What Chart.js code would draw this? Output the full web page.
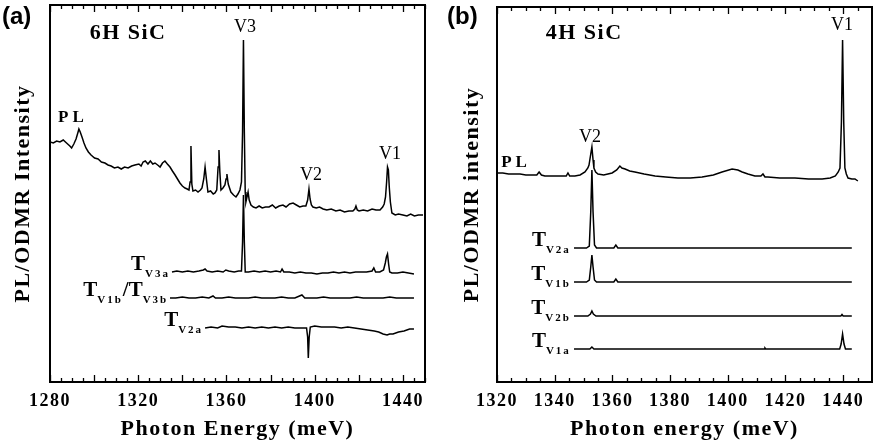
<!DOCTYPE html>
<html lang="en">
<head>
    <meta charset="UTF-8">
    <title>PL / ODMR spectra, 6H and 4H SiC</title>
    <script src="https://cdn.jsdelivr.net/npm/chart.js"></script>
    <style>
        body {
            margin: 0;
            background: #fff;
        }
        .panel {
            position: absolute;
            top: 0;
            height: 446px;
        }
        #panelA { left: 0; width: 435px; }
        #panelB { left: 435px; width: 438px; }
    </style>
</head>
<body>
    <div class="panel" id="panelA"><canvas id="chartA"></canvas></div>
    <div class="panel" id="panelB"><canvas id="chartB"></canvas></div>

    <script>
        // ---- tick labels (meV) ----
        const ticksA = [1280, 1320, 1360, 1400, 1440];
        const ticksB = [1320, 1340, 1360, 1380, 1400, 1420, 1440];

        // ---- panel (a) 6H SiC : [photon energy meV, intensity a.u.] ----
        const plA = [[1280.0,240],[1281.5,239],[1283.0,241],[1284.5,240],[1286.0,242],[1287.5,239],[1289.0,236],[1289.8,234],[1290.8,238],[1291.8,243],[1292.6,249],[1293.1,253],[1293.7,250],[1294.5,245],[1295.4,239],[1296.3,234],[1297.4,230],[1298.6,227],[1300.2,224],[1301.8,223],[1303.3,220],[1304.9,219],[1306.3,217],[1307.7,216],[1309.2,214],[1310.8,215],[1312.3,213],[1313.8,215],[1315.4,214],[1317.0,216],[1318.5,217],[1320.3,218],[1321.3,216],[1322.2,220],[1323.2,221],[1324.4,218],[1325.5,221],[1326.6,218],[1327.6,219],[1328.8,217],[1329.9,215],[1331.0,219],[1332.1,221],[1333.2,218],[1334.4,215],[1335.5,211],[1336.7,207],[1337.8,203],[1338.9,199],[1340.0,196],[1341.2,194],[1342.2,193],[1343.0,192],[1343.5,200],[1343.9,236],[1344.3,198],[1344.8,191],[1346.0,192],[1347.1,190],[1348.2,192],[1348.9,194],[1349.7,203],[1350.3,215],[1350.9,203],[1351.6,190],[1352.8,191],[1354.0,188],[1354.8,189],[1355.6,192],[1356.2,215],[1356.6,232],[1357.0,210],[1357.5,192],[1358.4,194],[1359.3,197],[1359.8,203],[1360.2,208],[1360.8,198],[1362.0,190],[1363.2,187],[1364.3,185],[1365.2,188],[1366.1,192],[1366.8,200],[1367.3,250],[1367.7,342],[1368.1,250],[1368.5,190],[1368.8,180],[1369.3,185],[1369.8,190],[1370.3,182],[1371.1,177],[1372.2,175],[1373.4,174],[1374.8,176],[1376.2,174],[1377.7,175],[1379.3,175],[1380.8,177],[1382.3,174],[1383.9,176],[1385.6,177],[1387.0,175],[1388.6,178],[1390.2,179],[1391.7,177],[1393.2,175],[1394.7,176],[1396.0,176],[1396.8,182],[1397.4,193],[1397.9,183],[1398.5,177],[1399.2,175],[1400.7,174],[1402.2,175],[1403.8,173],[1405.5,172],[1407.5,173],[1409.6,171],[1411.5,172],[1413.5,170],[1415.5,171],[1417.3,171],[1418.2,173],[1418.7,176],[1419.3,172],[1420.1,171],[1422.0,172],[1424.0,171],[1426.0,173],[1427.8,172],[1429.6,172],[1430.8,175],[1431.5,178],[1432.1,185],[1432.6,200],[1433.0,215],[1433.4,212],[1433.8,195],[1434.3,180],[1435.0,169],[1436.5,167],[1438.0,168],[1440.0,167],[1441.8,166],[1443.5,168],[1445.2,166],[1447.0,167],[1449.1,167]];
        const tV3aA = [[1335.3,110],[1337.5,111],[1340,110],[1342.5,111],[1345,110],[1347.5,111],[1349.5,112],[1350.3,113],[1351.2,111],[1353.5,110],[1356,111],[1358.5,110],[1359.7,112],[1361,111],[1363.5,110],[1365.5,111],[1366.8,111],[1367.3,140],[1367.7,187],[1368.1,140],[1368.5,110],[1370,110],[1372.5,111],[1375,110],[1377.5,111],[1380,110],[1382.5,111],[1384.5,110],[1385.2,113],[1386,110],[1388.5,110],[1391,109],[1393.5,110],[1396,109],[1398.5,109],[1401,108],[1403.5,109],[1406,109],[1408.5,110],[1411,109],[1413.5,110],[1416,109],[1418.5,110],[1421,110],[1423.5,110],[1426,111],[1426.8,114],[1427.6,110],[1429.5,110],[1431.2,112],[1432.0,119],[1432.5,125],[1433.0,128],[1433.5,118],[1434.0,110],[1435,109],[1437.5,109],[1440,110],[1442.5,109],[1445,108]];
        const tV1bV3bA = [[1334.4,84],[1337,84],[1340,85],[1343,84],[1346,84],[1349,85],[1352,84],[1353.9,86],[1355,84],[1358,84],[1361,85],[1364,84],[1367,84],[1370,84],[1373,85],[1376,84],[1379,84],[1382,84],[1385,85],[1388,84],[1391,84],[1394.2,87],[1395.5,84],[1398,84],[1401,84],[1404,85],[1407,84],[1410,84],[1413,84],[1416,84],[1419,85],[1422,84],[1425,84],[1428,84],[1431,84],[1434,85],[1437,84],[1440,84],[1443,84],[1445,84]];
        const tV2aA = [[1350.3,54],[1353,55],[1356,54],[1358,56],[1361,55],[1364,55],[1367,54],[1370,55],[1373,54],[1376,55],[1379,54],[1382,55],[1385,54],[1388,55],[1391,54],[1394,54],[1396.3,54],[1396.8,45],[1397.1,24],[1397.5,45],[1398,55],[1400,56],[1403,55],[1406,55],[1409,55],[1412,54],[1415,55],[1418,54],[1421,53],[1424,52],[1427,51],[1429,50],[1431,48],[1432.8,47],[1434,48],[1435.5,48],[1438,50],[1440.5,51],[1443,53],[1445,53]];

        // ---- panel (b) 4H SiC ----
        const plB = [[1320.0,209],[1322,209],[1324,208],[1326.2,208],[1328,208],[1330,207],[1332.1,207],[1333.8,207],[1334.6,210],[1335.4,207],[1336.6,206],[1338.5,206],[1340.5,206],[1342.5,206],[1344,206],[1344.6,209],[1345.2,206],[1347.0,206],[1348.8,207],[1350.5,210],[1351.5,214],[1351.9,217],[1352.5,228],[1352.9,235],[1353.3,222],[1353.6,214],[1354.2,210],[1355.0,208],[1357,207],[1359.9,209],[1361.5,212],[1362.6,216],[1363.3,214],[1364.4,213],[1366,211],[1367.8,210],[1371,208],[1374.8,206],[1378.5,205],[1382.7,204],[1387,204],[1391.1,205],[1395,207],[1398.0,210],[1401.5,213],[1403.5,212],[1405.0,210],[1407,208],[1409.4,206],[1411.5,206],[1412.2,208],[1412.9,205],[1413.9,205],[1418,204],[1423.3,204],[1428,203],[1432.7,203],[1435.5,204],[1437.3,206],[1438.3,210],[1438.9,214],[1439.4,260],[1439.8,342],[1440.2,260],[1440.6,214],[1441.1,208],[1441.7,204],[1443,203],[1444.1,203],[1445.1,201]];
        const tV2aB = [[1346.7,134],[1349,134],[1351,134],[1352.0,136],[1352.5,170],[1352.9,212],[1353.3,170],[1353.8,137],[1354.5,134],[1357,134],[1360.5,134],[1361.2,137],[1361.9,134],[1365,134],[1380,134],[1400,134],[1420,134],[1443,134]];
        const tV1bB = [[1346.7,100],[1351,100],[1352.0,102],[1352.5,115],[1352.9,127],[1353.3,115],[1353.8,102],[1354.5,100],[1360.5,100],[1361.2,103],[1361.9,100],[1380,100],[1400,100],[1420,100],[1443,100]];
        const tV2bB = [[1346.7,66],[1351.5,66],[1352.4,68],[1352.9,71],[1353.4,68],[1354.3,66],[1380,66],[1410,66],[1430,66],[1439.2,66],[1439.6,67.5],[1440,66],[1443,66]];
        const tV1aB = [[1346.7,33],[1352.2,33],[1352.9,35],[1353.6,33],[1390,33],[1412.6,33],[1412.9,34],[1413.2,33],[1438.8,33],[1439.3,38],[1439.8,48],[1440.3,38],[1440.8,33],[1443,33]];

        const SERIF = '"Liberation Serif", "Times New Roman", serif';
        Chart.defaults.color = '#000';
        Chart.defaults.font.family = SERIF;

        function toPoints(arr) {
            return arr.map(p => ({x: p[0], y: p[1]}));
        }

        function trace(arr) {
            return {
                data: toPoints(arr),
                borderColor: '#000',
                borderWidth: 1.5,
                pointRadius: 0,
                tension: 0,
                fill: false
            };
        }

        // draws T with subscripts, ending at xEnd (pixel), around the trace level
        function drawTLabel(ctx, xEnd, yTrace, parts) {
            let x = xEnd;
            ctx.textAlign = 'left';
            ctx.textBaseline = 'alphabetic';
            for (let i = parts.length - 1; i >= 0; i--) {
                const [txt, kind] = parts[i];
                if (kind === 's') {
                    ctx.font = 'bold 11px ' + SERIF;
                    ctx.letterSpacing = '2px';
                } else {
                    ctx.font = 'bold 21px ' + SERIF;
                    ctx.letterSpacing = '0px';
                }
                const w = ctx.measureText(txt).width;
                x -= w;
                ctx.fillText(txt, x, yTrace + (kind === 's' ? 5 : -2));
            }
        }

        const spacing = {
            id: 'spacing',
            beforeDraw(chart) {
                chart.ctx.letterSpacing = '1.5px';
            }
        };

        const frameTicks = {
            id: 'frameTicks',
            afterDraw(chart, args, opts) {
                const {ctx, chartArea: a} = chart;
                const x = chart.scales.x;
                ctx.save();
                ctx.strokeStyle = '#000';
                ctx.lineWidth = 2;
                ctx.strokeRect(a.left, a.top, a.right - a.left, a.bottom - a.top);
                ctx.lineWidth = 1.3;
                ctx.beginPath();
                for (let v = x.min; v <= x.max; v += opts.minor) {
                    const px = Math.round(x.getPixelForValue(v)) + 0.5;
                    const len = v % opts.major === 0 ? 7 : 4;
                    ctx.moveTo(px, a.bottom);
                    ctx.lineTo(px, a.bottom - len);
                    ctx.moveTo(px, a.top);
                    ctx.lineTo(px, a.top + len);
                }
                ctx.stroke();
                ctx.restore();
            }
        };

        const notes = {
            id: 'notes',
            afterDraw(chart, args, opts) {
                const {ctx} = chart;
                const x = chart.scales.x, y = chart.scales.y;
                ctx.save();
                ctx.fillStyle = '#000';
                // panel letter
                ctx.letterSpacing = '0px';
                ctx.font = 'bold 24px "Liberation Sans", Arial, sans-serif';
                ctx.textAlign = 'left';
                ctx.textBaseline = 'middle';
                ctx.fillText(opts.panel, opts.panelX, 17);
                opts.texts.forEach(t => {
                    ctx.font = t.font + ' ' + SERIF;
                    ctx.letterSpacing = (t.ls || 0) + 'px';
                    ctx.textAlign = 'center';
                    ctx.textBaseline = 'middle';
                    ctx.fillText(t.text, x.getPixelForValue(t.x), y.getPixelForValue(t.y));
                });
                opts.tLabels.forEach(t => {
                    drawTLabel(ctx, x.getPixelForValue(t.x), y.getPixelForValue(t.y), t.parts);
                });
                ctx.restore();
            }
        };

        function makeChart(id, cfg) {
            return new Chart(document.getElementById(id), {
                type: 'line',
                data: {datasets: cfg.series.map(trace)},
                options: {
                    responsive: true,
                    maintainAspectRatio: false,
                    animation: false,
                    events: [],
                    layout: {padding: {top: cfg.padTop, right: cfg.padRight, left: 0, bottom: 0}},
                    plugins: {
                        legend: {display: false},
                        tooltip: {enabled: false},
                        frameTicks: {minor: 5, major: 20},
                        notes: {panel: cfg.panel, panelX: cfg.panelX, texts: cfg.texts, tLabels: cfg.tLabels}
                    },
                    scales: {
                        x: {
                            type: 'linear',
                            min: cfg.xMin,
                            max: cfg.xMax,
                            grid: {display: false, drawTicks: false},
                            border: {display: false},
                            afterBuildTicks: s => { s.ticks = cfg.ticks.map(v => ({value: v})); },
                            ticks: {
                                autoSkip: false,
                                maxRotation: 0,
                                padding: 9,
                                font: {size: 18, weight: 'bold'},
                                callback: v => String(v)
                            },
                            title: {
                                display: true,
                                text: cfg.xTitle,
                                font: {size: 22, weight: 'bold'},
                                padding: {top: 0, bottom: 3}
                            },
                            afterFit: s => { s.height = 64; }
                        },
                        y: {
                            min: 0,
                            max: cfg.yMax,
                            ticks: {display: false},
                            grid: {display: false, drawTicks: false},
                            border: {display: false},
                            title: {
                                display: true,
                                text: cfg.yTitle,
                                font: {size: 22, weight: 'bold'},
                                padding: {top: cfg.yTitlePad, bottom: 0}
                            },
                            afterFit: s => { s.width = cfg.yWidth; }
                        }
                    }
                },
                plugins: [spacing, frameTicks, notes]
            });
        }

        makeChart('chartA', {
            series: [plA, tV3aA, tV1bV3bA, tV2aA],
            xMin: 1280, xMax: 1450, yMax: 377, ticks: ticksA,
            xTitle: 'Photon Energy (meV)', yTitle: 'PL/ODMR Intensity',
            padTop: 5, padRight: 10, yWidth: 50, yTitlePad: 10,
            panel: '(a)', panelX: 2,
            texts: [
                {text: '6H SiC', x: 1315.4, y: 349, font: 'bold 22px', ls: 1.5},
                {text: 'V3', x: 1368.4, y: 355, font: '18px'},
                {text: 'PL', x: 1290.4, y: 264, font: 'bold 17px', ls: 4},
                {text: 'V2', x: 1398.3, y: 207, font: '18px'},
                {text: 'V1', x: 1434.1, y: 228, font: '18px'}
            ],
            tLabels: [
                {x: 1334.4, y: 110, parts: [['T','m'], ['V3a','s']]},
                {x: 1333.6, y: 84, parts: [['T','m'], ['V1b','s'], ['/','m'], ['T','m'], ['V3b','s']]},
                {x: 1349.4, y: 54, parts: [['T','m'], ['V2a','s']]}
            ]
        });

        makeChart('chartB', {
            series: [plB, tV2aB, tV1bB, tV2bB, tV1aB],
            xMin: 1320, xMax: 1450, yMax: 375, ticks: ticksB,
            xTitle: 'Photon energy (meV)', yTitle: 'PL/ODMR intensity',
            padTop: 7, padRight: 1, yWidth: 62, yTitlePad: 24,
            panel: '(b)', panelX: 12,
            texts: [
                {text: '4H SiC', x: 1350.2, y: 349, font: 'bold 22px', ls: 1.5},
                {text: 'V1', x: 1439.6, y: 357, font: '18px'},
                {text: 'V2', x: 1352.2, y: 245, font: '18px'},
                {text: 'PL', x: 1326.6, y: 219, font: 'bold 17px', ls: 4}
            ],
            tLabels: [
                {x: 1345.6, y: 134, parts: [['T','m'], ['V2a','s']]},
                {x: 1345.6, y: 100, parts: [['T','m'], ['V1b','s']]},
                {x: 1345.6, y: 66, parts: [['T','m'], ['V2b','s']]},
                {x: 1345.6, y: 33, parts: [['T','m'], ['V1a','s']]}
            ]
        });
    </script>
</body>
</html>
